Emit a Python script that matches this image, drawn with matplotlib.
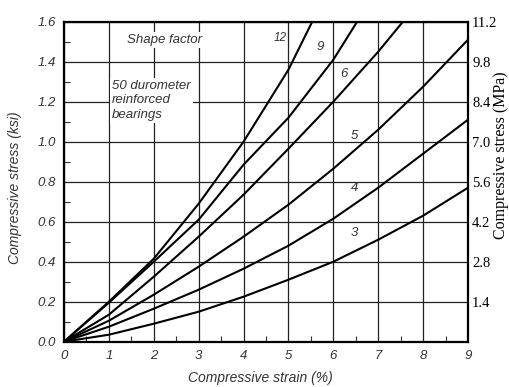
import matplotlib.pyplot as plt

# compressive strain (%) and stress (ksi) per shape factor
x3 = [0, 1, 2, 3, 4, 5, 6, 7, 8, 9]
y3 = [0, 0.035, 0.09, 0.15, 0.225, 0.31, 0.40, 0.51, 0.63, 0.77]
x4 = [0, 1, 2, 3, 4, 5, 6, 7, 8, 9]
y4 = [0, 0.075, 0.165, 0.26, 0.365, 0.48, 0.615, 0.77, 0.94, 1.11]
x5 = [0, 1, 2, 3, 4, 5, 6, 7, 8, 9]
y5 = [0, 0.105, 0.235, 0.375, 0.525, 0.685, 0.865, 1.06, 1.275, 1.51]
x6 = [0, 1, 2, 3, 4, 5, 6, 7, 7.55]
y6 = [0, 0.135, 0.325, 0.525, 0.735, 0.965, 1.20, 1.45, 1.6]
x9 = [0, 1, 2, 3, 4, 5, 6, 6.53]
y9 = [0, 0.195, 0.40, 0.61, 0.885, 1.12, 1.41, 1.6]
x12 = [0, 1, 2, 3, 4, 5, 5.53]
y12 = [0, 0.2, 0.415, 0.69, 1.0, 1.36, 1.6]

curves = [(x3, y3, "3", 6.47, 0.545), (x4, y4, "4", 6.47, 0.77),
          (x5, y5, "5", 6.47, 1.03), (x6, y6, "6", 6.24, 1.34),
          (x9, y9, "9", 5.71, 1.475), (x12, y12, "12", 4.82, 1.52)]

ksi_ticks = [0.0, 0.2, 0.4, 0.6, 0.8, 1.0, 1.2, 1.4, 1.6]
mpa_ticks = [0.2, 0.4, 0.6, 0.8, 1.0, 1.2, 1.4, 1.6]
mpa_labels = ["1.4", "2.8", "4.2", "5.6", "7.0", "8.4", "9.8", "11.2"]
strain_ticks = [0, 1, 2, 3, 4, 5, 6, 7, 8, 9]

sans = {"family": "Liberation Sans", "style": "italic"}
grey = "#333333"

fig = plt.figure(figsize=(5.10, 3.87), dpi=100)
ax = fig.add_axes([64 / 510, 1 - 341.7 / 387, 404 / 510, 320 / 387])

ax.set_xlim(0, 9)
ax.set_ylim(0, 1.6)
ax.set_xticks(strain_ticks)
ax.set_yticks(ksi_ticks)
ax.set_xticklabels([str(t) for t in strain_ticks], fontsize=9.5, color=grey, **sans)
ax.set_yticklabels([f"{t:.1f}" for t in ksi_ticks], fontsize=9.5, color=grey, **sans)
ax.set_xticks([t + 0.5 for t in strain_ticks[:-1]], minor=True)
ax.set_yticks([t + 0.1 for t in ksi_ticks[:-1]], minor=True)
ax.tick_params(which="major", length=0, pad=6)
ax.tick_params(which="minor", direction="in", length=4, width=0.8, color=grey)
ax.grid(True, which="major", color="#222222", lw=0.9)
for s in ax.spines.values():
    s.set_linewidth(1.6)

for xs, ys, lab, lx, ly in curves:
    ax.plot(xs, ys, color="black", lw=1.5, zorder=3)
    ax.text(lx, ly, lab, fontsize=9.5 if lab != "12" else 8.5, color=grey,
            ha="center", va="center", **sans)

box = dict(facecolor="white", edgecolor="none", boxstyle="square,pad=0.15")
ax.text(2.25, 1.51, "Shape factor", fontsize=9.5, color=grey, ha="center",
        va="center", bbox=box, zorder=4, **sans)
ax.text(1.07, 1.31, "50 durometer\nreinforced\nbearings", fontsize=9.5,
        color=grey, ha="left", va="top", linespacing=1.3, bbox=box,
        zorder=4, **sans)

ax.set_xlabel("Compressive strain (%)", fontsize=10, color=grey, **sans)
ax.xaxis.set_label_coords(0.485, -0.093)
ax.set_ylabel("Compressive stress (ksi)", fontsize=10, color=grey, **sans)
ax.yaxis.set_label_coords(-0.104, 0.48)

ax2 = ax.twinx()
ax2.set_ylim(0, 1.6)
ax2.set_yticks(mpa_ticks)
ax2.set_yticklabels(mpa_labels, fontsize=10.5, family="Liberation Serif")
ax2.tick_params(length=0, pad=3)
for s in ax2.spines.values():
    s.set_visible(False)

fig.text(509 / 510, 1 - 155 / 387, "Compressive stress (MPa)", rotation=90,
         ha="right", va="center", fontsize=11.5, family="Liberation Serif")

fig.savefig("out.png", dpi=100)
